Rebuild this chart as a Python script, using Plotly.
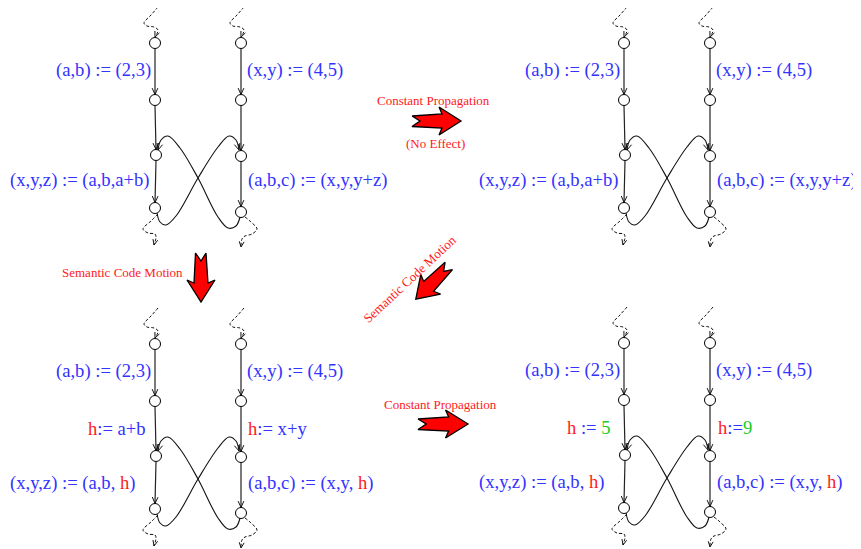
import math
import plotly.graph_objects as go

BLUE = '#3333ff'
RED = '#ff1a1a'
GREEN = '#22cc22'
FONT = 'Liberation Serif'

# where each copy of the flow graph sits (top-left, top-right, bottom-left, bottom-right)
panel_dx = [0, 469, 0, 469]
panel_dy = [0, 0, 301, 300]

# flow graph nodes, panel-local pixel coords
left_x = [155, 155, 156, 155]
left_y = [43, 100, 155, 208]
right_x = [241, 241, 241, 241]
right_y = [43, 100, 156, 212]

# the two crossing back edges
cross_a_x = [157, 160, 166, 176, 198, 218, 229, 236, 239]
cross_a_y = [213, 222, 225, 216, 178, 147, 136, 140, 150]
cross_b_x = [240, 236, 228, 218, 198, 180, 168, 161, 158]
cross_b_y = [217, 226, 228, 217, 178, 148, 136, 140, 150]

# dashed in/out edges (dx relative to column)
top_dash_dx = [3, -4, -11, -8, -1, 3, 0]
top_dash_y = [7, 15, 23, 26, 27, 30, 37]
bot_left_dx = [3, -4, -12, -7, 0, 1, -1]
bot_left_y = [214, 221, 229, 233, 234, 237, 245]
bot_right_dx = [4, 10, 16, 11, 4, 1, 0]
bot_right_y = [217, 222, 229, 234, 236, 239, 247]

h = '<span style="color:%s">h</span>' % RED
def g(s):
    return '<span style="color:%s">%s</span>' % (GREEN, s)

# statement labels per panel: (text, local x, local y)
labels = [
    [('(a,b) := (2,3)', 55, 70), ('(x,y) := (4,5)', 246, 70),
     ('(x,y,z) := (a,b,a+b)', 9, 180), ('(a,b,c) := (x,y,y+z)', 247, 180)],
    [('(a,b) := (2,3)', 55, 70), ('(x,y) := (4,5)', 246, 70),
     ('(x,y,z) := (a,b,a+b)', 9, 180), ('(a,b,c) := (x,y,y+z)', 247, 180)],
    [('(a,b) := (2,3)', 55, 70), ('(x,y) := (4,5)', 246, 70),
     (h + ':= a+b', 87, 127), (h + ':= x+y', 247, 127),
     ('(x,y,z) := (a,b, ' + h + ')', 9, 182), ('(a,b,c) := (x,y, ' + h + ')', 247, 182)],
    [('(a,b) := (2,3)', 55, 70), ('(x,y) := (4,5)', 246, 70),
     (h + ' := ' + g('5'), 97, 127), (h + ':=' + g('9'), 248, 127),
     ('(x,y,z) := (a,b, ' + h + ')', 9, 182), ('(a,b,c) := (x,y, ' + h + ')', 247, 182)],
]

# transformation arrows: tail x, tail y, direction (deg, screen), length
arrow_x = [412, 201, 449, 418]
arrow_y = [121, 253, 266, 424]
arrow_ang = [0, 90, 135, 0]
arrow_len = [49, 49, 47, 50]

# red captions: text, x, y, angle
cap_text = ['Constant Propagation', '(No Effect)', 'Semantic Code Motion',
            'Semantic Code Motion', 'Constant Propagation']
cap_x = [433, 435, 122, 409, 440]
cap_y = [100, 143, 272, 279, 404]
cap_ang = [0, 0, 0, -43, 0]

# the page puts the plot 8px in from the top-left, so shift the axes to match
OFF = 8


def vhead(tx, ty, dx, dy, size=7, spread=0.42):
    n = math.hypot(dx, dy)
    bx, by = -dx / n, -dy / n
    xs, ys = [], []
    for s in (spread, -spread):
        c, sn = math.cos(s), math.sin(s)
        rx, ry = bx * c - by * sn, bx * sn + by * c
        xs += [tx + rx * size, tx, None]
        ys += [ty + ry * size, ty, None]
    return xs, ys


fig = go.Figure()
line_x, line_y = [], []
head_x, head_y = [], []
curve_x, curve_y = [], []
dash_x, dash_y = [], []
node_x, node_y = [], []
r = 5.5

for p in range(4):
    ox, oy = panel_dx[p], panel_dy[p]
    for cx, cy in ((left_x, left_y), (right_x, right_y)):
        for i in range(3):
            x0, y0 = cx[i] + ox, cy[i] + oy + r
            x1, y1 = cx[i + 1] + ox, cy[i + 1] + oy - r
            line_x += [x0, x1, None]
            line_y += [y0, y1, None]
            hx, hy = vhead(x1, y1, x1 - x0, y1 - y0)
            head_x += hx
            head_y += hy
        node_x += [v + ox for v in cx]
        node_y += [v + oy for v in cy]
        # dashed entry edge
        xs = [cx[0] + ox + d for d in top_dash_dx]
        ys = [v + oy for v in top_dash_y]
        dash_x += xs + [None]
        dash_y += ys + [None]
        hx, hy = vhead(xs[-1], ys[-1], xs[-1] - xs[-2], ys[-1] - ys[-2], size=6)
        head_x += hx
        head_y += hy
    for cx, ddx, ddy in ((left_x, bot_left_dx, bot_left_y), (right_x, bot_right_dx, bot_right_y)):
        xs = [cx[3] + ox + d for d in ddx]
        ys = [v + oy for v in ddy]
        dash_x += xs + [None]
        dash_y += ys + [None]
        hx, hy = vhead(xs[-1], ys[-1], xs[-1] - xs[-2], ys[-1] - ys[-2], size=6)
        head_x += hx
        head_y += hy
    for ccx, ccy in ((cross_a_x, cross_a_y), (cross_b_x, cross_b_y)):
        xs = [v + ox for v in ccx]
        ys = [v + oy for v in ccy]
        curve_x += xs + [None]
        curve_y += ys + [None]
        hx, hy = vhead(xs[-1], ys[-1], xs[-1] - xs[-2], ys[-1] - ys[-2])
        head_x += hx
        head_y += hy
    for txt, lx, ly in labels[p]:
        fig.add_annotation(x=lx + ox, y=ly + oy, text=txt, showarrow=False,
                           xanchor='left', yanchor='middle', borderpad=0,
                           font=dict(family=FONT, size=18.6, color=BLUE))

fig.add_trace(go.Scatter(x=line_x, y=line_y, mode='lines',
                         line=dict(color='#222222', width=1.2), hoverinfo='skip'))
fig.add_trace(go.Scatter(x=curve_x, y=curve_y, mode='lines',
                         line=dict(color='#111111', width=1.1, shape='spline', smoothing=1.0),
                         hoverinfo='skip'))
fig.add_trace(go.Scatter(x=dash_x, y=dash_y, mode='lines',
                         line=dict(color='#111111', width=1, shape='spline', dash='3px,2px'),
                         hoverinfo='skip'))
fig.add_trace(go.Scatter(x=head_x, y=head_y, mode='lines',
                         line=dict(color='#111111', width=1), hoverinfo='skip'))
fig.add_trace(go.Scatter(x=node_x, y=node_y, mode='markers',
                         marker=dict(symbol='circle', size=11, color='white',
                                     line=dict(color='black', width=1)),
                         hoverinfo='skip'))

# block arrow outline in local coords (u along, v across)
shape_u = [0, 8, 0, 30, 27, 1.0, 27, 30, 0]
shape_v = [-5, 0, 5.5, 7, 14, 0, -14, -7, -5]
for tx, ty, ang, ln in zip(arrow_x, arrow_y, arrow_ang, arrow_len):
    a = math.radians(ang)
    ux, uy = math.cos(a), math.sin(a)
    nx, ny = -uy, ux
    k = ln / 49.0
    xs, ys = [], []
    for u, v in zip(shape_u, shape_v):
        u = u * k if u != 1.0 else ln
        xs.append(tx + u * ux + v * nx)
        ys.append(ty + u * uy + v * ny)
    fig.add_trace(go.Scatter(x=xs, y=ys, mode='lines', fill='toself',
                             fillcolor='#ff0000', line=dict(color='black', width=1.3),
                             hoverinfo='skip'))

for t, x, y, an in zip(cap_text, cap_x, cap_y, cap_ang):
    fig.add_annotation(x=x, y=y, text=t, showarrow=False, textangle=an,
                       xanchor='center', yanchor='middle',
                       font=dict(family=FONT, size=13, color=RED))

fig.update_layout(
    width=861, height=549,
    margin=dict(l=0, r=0, t=0, b=0),
    paper_bgcolor='white', plot_bgcolor='white',
    showlegend=False,
    xaxis=dict(range=[OFF, 861 + OFF], visible=False, fixedrange=True),
    yaxis=dict(range=[549 + OFF, OFF], visible=False, fixedrange=True),
)
fig.write_html("out.html")
